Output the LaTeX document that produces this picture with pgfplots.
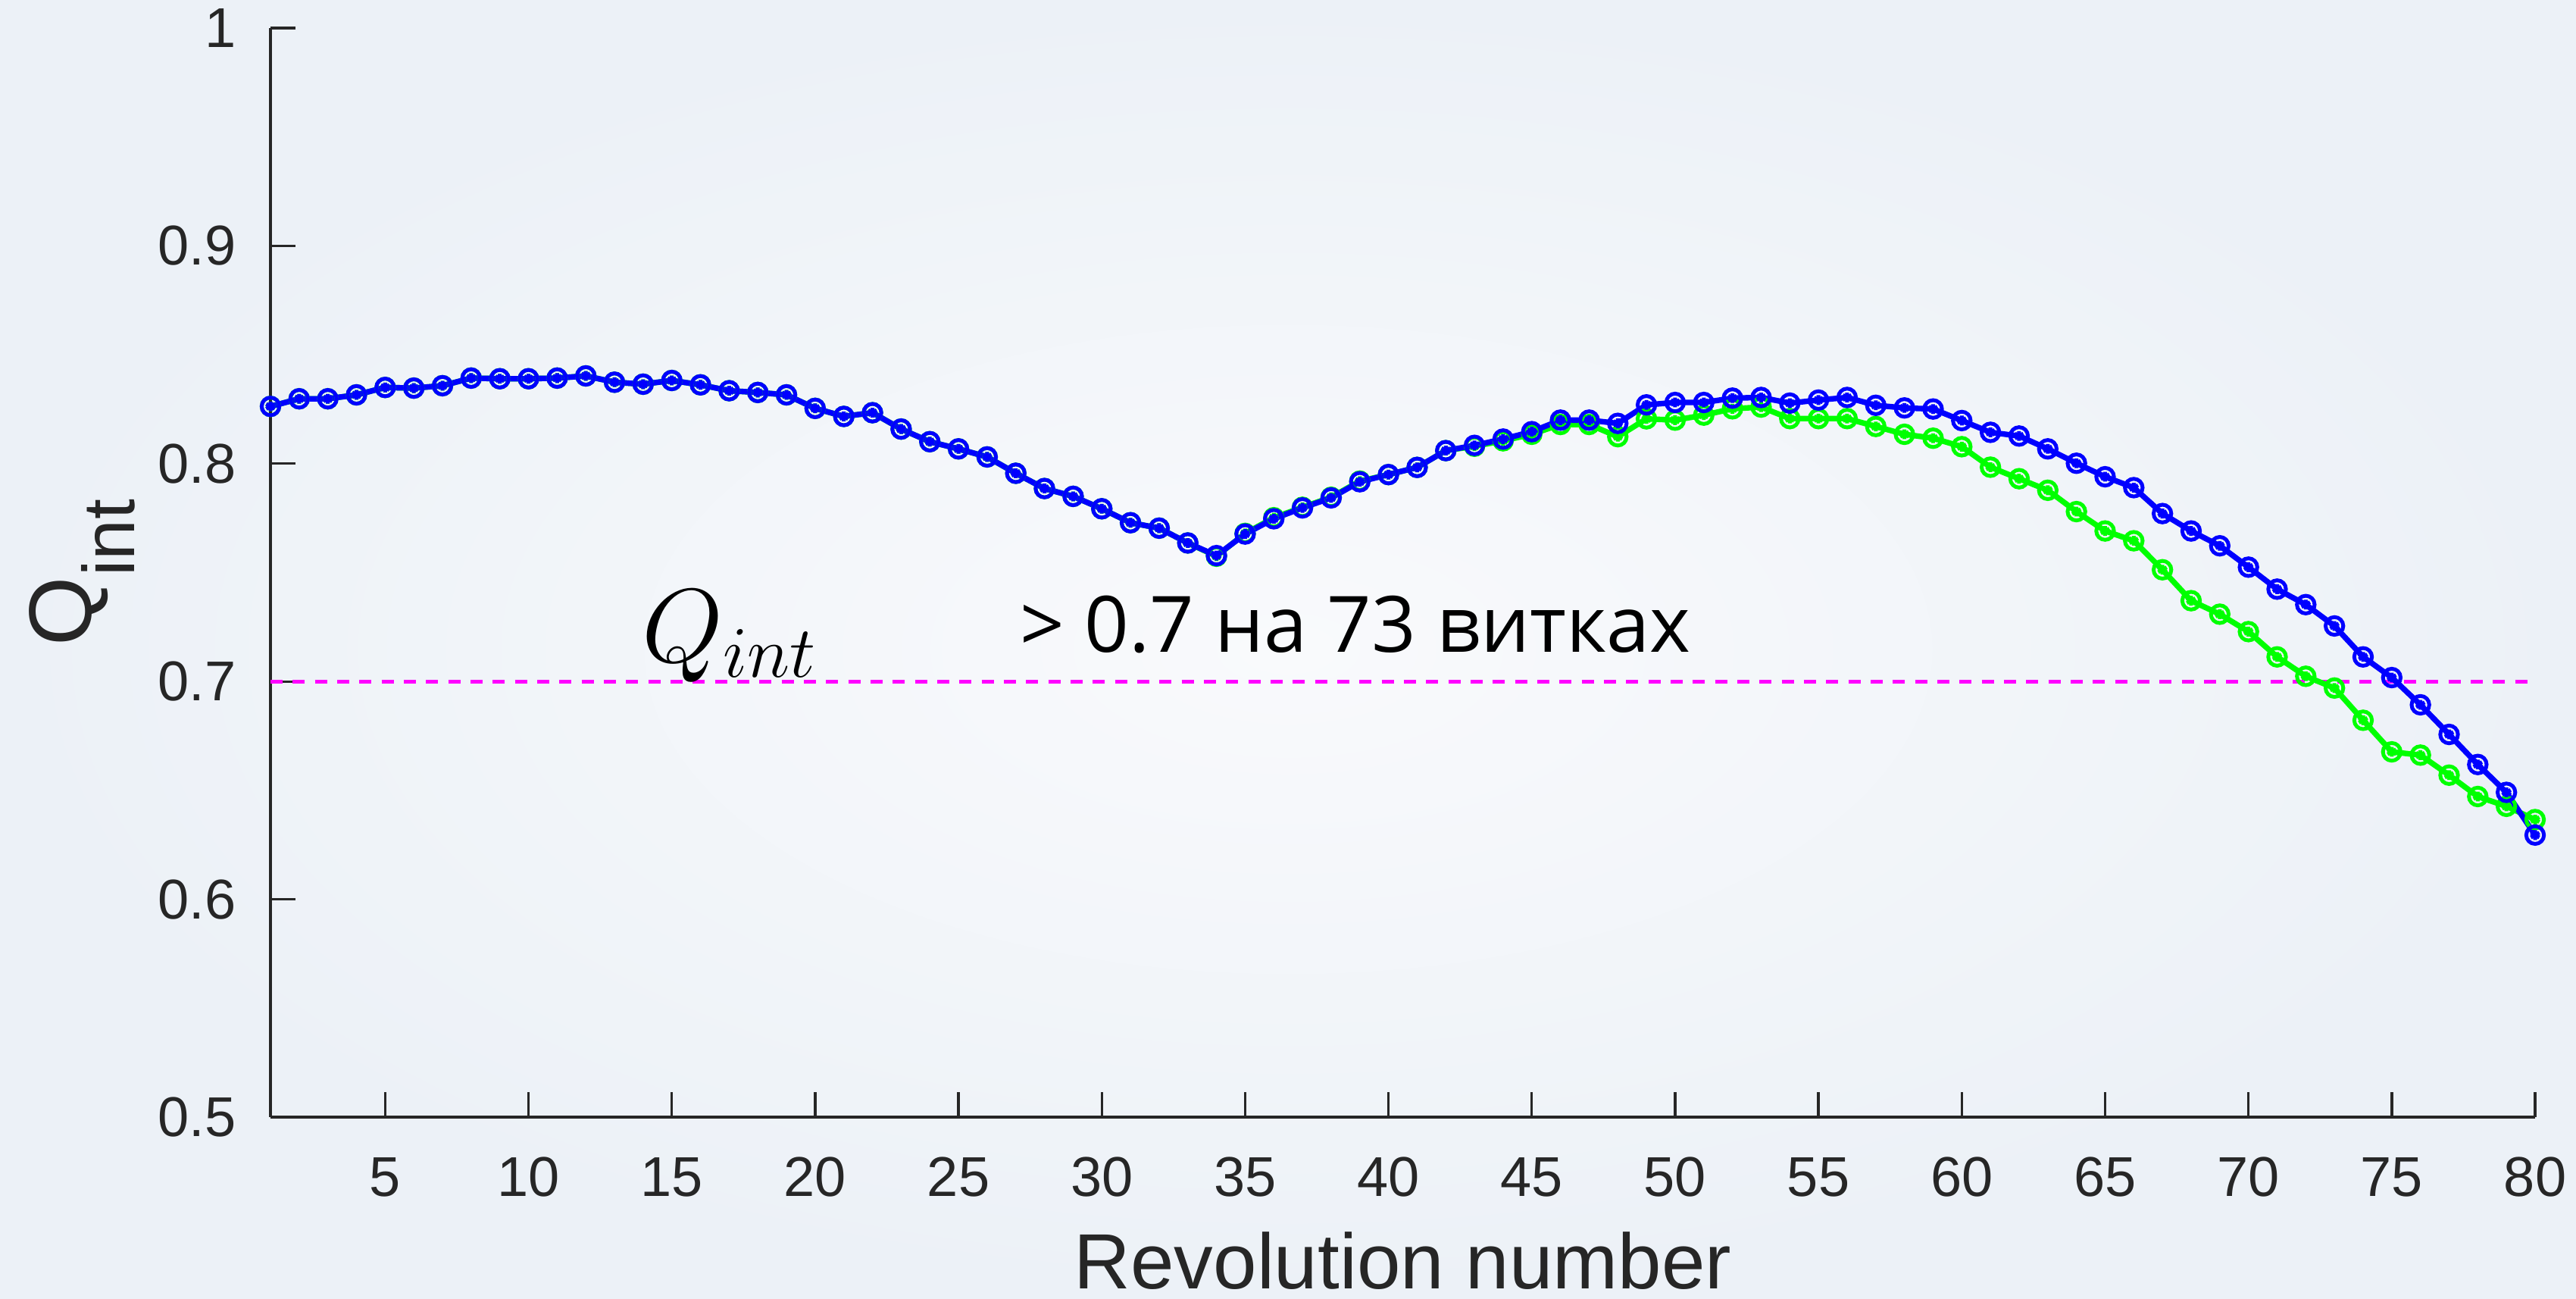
\documentclass[border=0pt]{standalone}
\usepackage{pgfplots}
\pgfplotsset{compat=1.18}
\usepackage{pgfplotstable}
\usepackage{fontspec}
\setmainfont{Liberation Sans}
\newfontfamily\anfont{Open Sans}
\usetikzlibrary{backgrounds}

\definecolor{axgray}{RGB}{38,38,38}
\definecolor{bgin}{RGB}{249,250,252}
\definecolor{bgout}{RGB}{236,241,247}
\definecolor{mlblue}{RGB}{0,0,255}
\definecolor{mlgreen}{RGB}{0,255,0}
\definecolor{mlmag}{RGB}{255,0,255}

\pgfdeclareplotmark{oast}{%
  \pgfpathcircle{\pgfpointorigin}{\pgfplotmarksize}%
  \pgfusepathqstroke
  \pgfpathmoveto{\pgfpoint{0pt}{0.55\pgfplotmarksize}}%
  \pgfpathlineto{\pgfpoint{0pt}{-0.55\pgfplotmarksize}}%
  \pgfpathmoveto{\pgfpoint{0.48\pgfplotmarksize}{0.27\pgfplotmarksize}}%
  \pgfpathlineto{\pgfpoint{-0.48\pgfplotmarksize}{-0.27\pgfplotmarksize}}%
  \pgfpathmoveto{\pgfpoint{0.48\pgfplotmarksize}{-0.27\pgfplotmarksize}}%
  \pgfpathlineto{\pgfpoint{-0.48\pgfplotmarksize}{0.27\pgfplotmarksize}}%
  \pgfusepathqstroke}

\pgfplotstableread{
x y
1 0.8263
2 0.8298
3 0.8298
4 0.8316
5 0.8350
6 0.8347
7 0.8358
8 0.8393
9 0.8390
10 0.8390
11 0.8393
12 0.8403
13 0.8374
14 0.8365
15 0.8382
16 0.8362
17 0.8335
18 0.8327
19 0.8316
20 0.8254
21 0.8217
22 0.8234
23 0.8159
24 0.8101
25 0.8068
26 0.8031
27 0.7956
28 0.7886
29 0.7850
30 0.7793
31 0.7729
32 0.7704
33 0.7636
34 0.7578
35 0.7677
36 0.7747
37 0.7797
38 0.7843
39 0.7917
40 0.7950
41 0.7983
42 0.8060
43 0.8084
44 0.8113
45 0.8147
46 0.8200
47 0.8200
48 0.8185
49 0.8270
50 0.8281
51 0.8281
52 0.8301
53 0.8304
54 0.8278
55 0.8292
56 0.8304
57 0.8268
58 0.8256
59 0.8251
60 0.8198
61 0.8144
62 0.8127
63 0.8068
64 0.8002
65 0.7940
66 0.7890
67 0.7771
68 0.7691
69 0.7623
70 0.7525
71 0.7424
72 0.7353
73 0.7255
74 0.7113
75 0.7018
76 0.6893
77 0.6757
78 0.6619
79 0.6491
80 0.6295
}\blueser

\pgfplotstableread{
x y
1 0.8263
2 0.8298
3 0.8298
4 0.8316
5 0.8350
6 0.8347
7 0.8358
8 0.8393
9 0.8390
10 0.8390
11 0.8393
12 0.8403
13 0.8374
14 0.8365
15 0.8382
16 0.8362
17 0.8335
18 0.8327
19 0.8316
20 0.8254
21 0.8217
22 0.8234
23 0.8159
24 0.8101
25 0.8068
26 0.8031
27 0.7956
28 0.7886
29 0.7850
30 0.7793
31 0.7729
32 0.7704
33 0.7636
34 0.7575
35 0.7680
36 0.7752
37 0.7800
38 0.7846
39 0.7920
40 0.7950
41 0.7983
42 0.8060
43 0.8080
44 0.8105
45 0.8135
46 0.8180
47 0.8180
48 0.8124
49 0.8206
50 0.8200
51 0.8223
52 0.8252
53 0.8260
54 0.8207
55 0.8207
56 0.8207
57 0.8171
58 0.8135
59 0.8117
60 0.8078
61 0.7984
62 0.7931
63 0.7878
64 0.7780
65 0.7691
66 0.7646
67 0.7513
68 0.7371
69 0.7309
70 0.7229
71 0.7113
72 0.7024
73 0.6970
74 0.6822
75 0.6677
76 0.6662
77 0.6570
78 0.6472
79 0.6427
80 0.6366
}\greenser

\pgfplotstableread{
x y
1 0.7
80 0.7
}\threshold

\begin{document}
\begin{tikzpicture}
\begin{axis}[
  scale only axis,
  width=448.35pt, height=215.55pt,
  xmin=1, xmax=80, ymin=0.5, ymax=1,
  clip=false,
  axis x line*=bottom, axis y line*=left,
  axis line style={axgray, line width=0.6pt},
  xtick={5,10,...,80},
  ytick={0.5,0.6,0.7,0.8,0.9,1},
  tick align=inside,
  major tick length=5pt,
  tick style={axgray, line width=0.5pt},
  /pgf/number format/assume math mode=true,
  ticklabel style={font=\fontsize{11.1}{13}\selectfont, text=axgray},
  yticklabel style={anchor=east, inner sep=0pt, xshift=-6.6pt,
    /pgf/number format/.cd, fixed, precision=1},
  xticklabel style={anchor=base, inner sep=0pt, yshift=-15.6pt},
  xlabel={Revolution number},
  xlabel style={font=\fontsize{15.5}{18}\selectfont, text=axgray,
    at={(axis description cs:0.5,-0.1575)}, anchor=base, inner sep=0pt},
  ylabel={Q\raisebox{-8.5pt}{\fontsize{14.5}{16}\selectfont int}},
  ylabel style={font=\fontsize{17.6}{20}\selectfont, text=axgray,
    at={(axis description cs:-0.1070,0.5)}, anchor=north, inner sep=0pt},
]
\coordinate (bbsw) at (rel axis cs:-0.11944,-0.16632);
\coordinate (bbne) at (rel axis cs:1.01807,1.02575);

\addplot[mlmag, line width=0.75pt, dash pattern=on 2.4pt off 2pt] table[x=x,y=y] {\threshold};

\addplot[mlgreen, line width=1.1pt, mark=oast, mark size=1.75pt,
  mark options={solid, line width=0.75pt}] table[x=x,y=y] {\greenser};

\addplot[mlblue, line width=1.1pt, mark=oast, mark size=1.75pt,
  mark options={solid, line width=0.75pt}] table[x=x,y=y] {\blueser};

\node[anchor=base west, inner sep=0pt, font=\fontsize{19.5}{22}\selectfont]
  at (axis cs:13.92,0.7091) {$Q_{int}$};
\node[anchor=base west, inner sep=0pt, font=\anfont\fontsize{15.4}{18}\selectfont]
  at (axis cs:27.11,0.7136) {> 0.7 на 73 витках};
\end{axis}
\begin{scope}[on background layer]
\shade[inner color=bgin, outer color=bgout] (bbsw) rectangle (bbne);
\end{scope}
\pgfresetboundingbox
\useasboundingbox (bbsw) rectangle (bbne);
\end{tikzpicture}
\end{document}
